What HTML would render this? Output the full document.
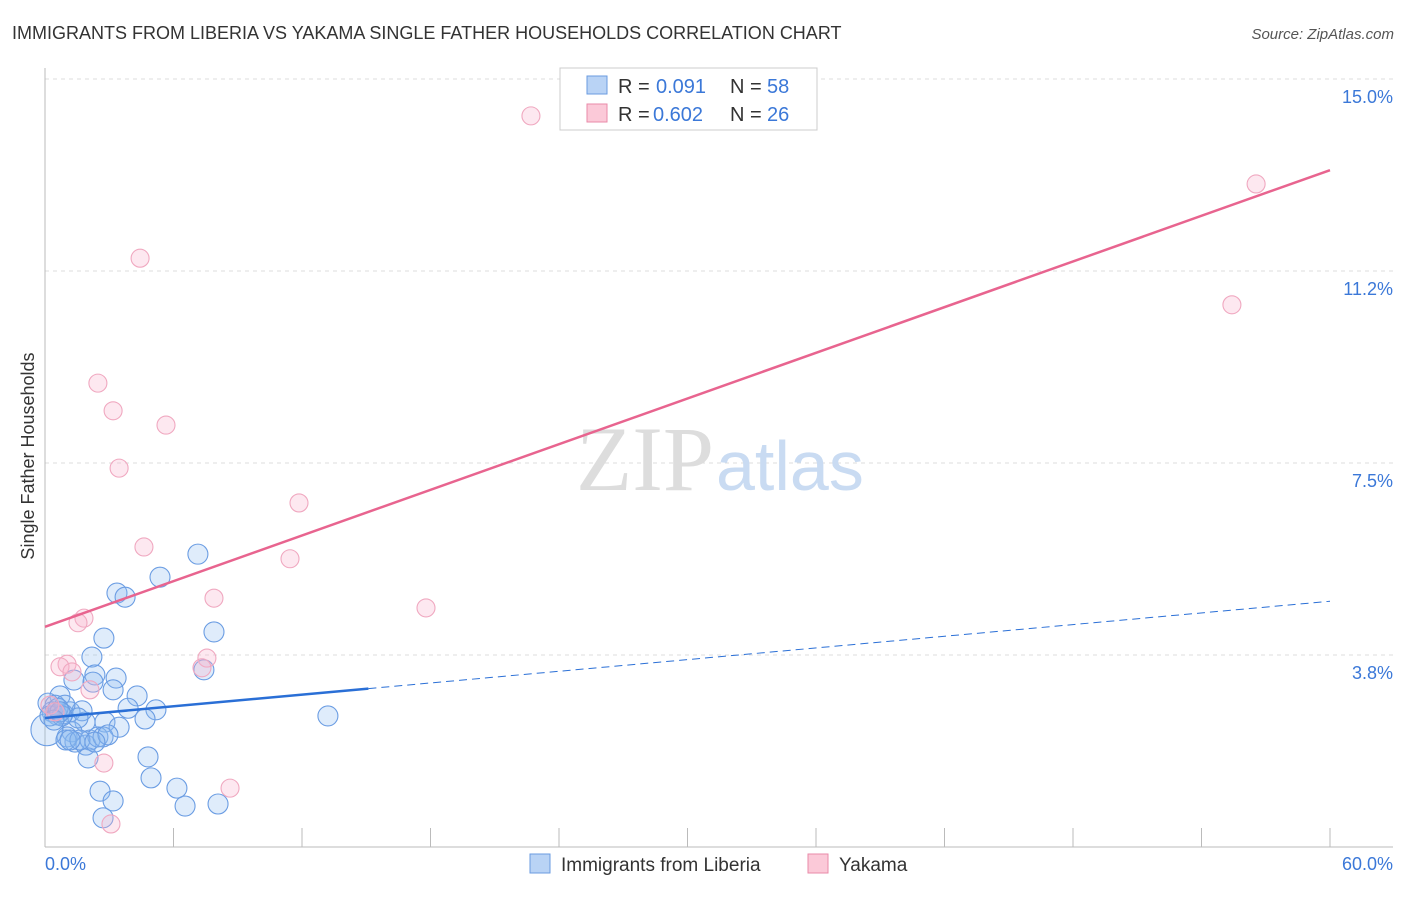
<!DOCTYPE html>
<html><head><meta charset="utf-8"><style>
body{margin:0;background:#fff;font-family:"Liberation Sans",sans-serif}
</style></head><body>
<svg width="1406" height="892" xmlns="http://www.w3.org/2000/svg" font-family="Liberation Sans, sans-serif">
<text x="12" y="39" font-size="18" fill="#333">IMMIGRANTS FROM LIBERIA VS YAKAMA SINGLE FATHER HOUSEHOLDS CORRELATION CHART</text>
<text x="1394" y="39" font-size="15" fill="#555" font-style="italic" text-anchor="end">Source: ZipAtlas.com</text>
<g id="grid"></g>
<text x="714" y="490" font-size="92" fill="#ddd" text-anchor="end" font-family="Liberation Serif, serif">ZIP</text>
<text x="716" y="490" font-size="70" fill="#c9dbf2">atlas</text>
<line x1="45" y1="68" x2="45" y2="847" stroke="#bbb"/>
<line x1="45" y1="847" x2="1393" y2="847" stroke="#bbb"/>
<text x="34" y="456" font-size="18" fill="#333" text-anchor="middle" transform="rotate(-90 34 456)">Single Father Households</text>
<text x="45" y="870" font-size="18" fill="#3b78d8">0.0%</text>
<text x="1393" y="870" font-size="18" fill="#3b78d8" text-anchor="end">60.0%</text>
<g id="points"></g>
<g id="lines"></g>
<g>
<rect x="560" y="68" width="257" height="62" fill="#fff" stroke="#ccc"/>
<rect x="587" y="76" width="20" height="18" fill="#b9d3f5" stroke="#6a9be0"/>
<rect x="587" y="104" width="20" height="18" fill="#fbc9d8" stroke="#e98aa8"/>
<text x="618" y="93" font-size="20" fill="#333">R =</text><text x="656" y="93" font-size="20" fill="#3b78d8">0.091</text>
<text x="730" y="93" font-size="20" fill="#333">N =</text><text x="767" y="93" font-size="20" fill="#3b78d8">58</text>
<text x="618" y="121" font-size="20" fill="#333">R =</text><text x="653" y="121" font-size="20" fill="#3b78d8">0.602</text>
<text x="730" y="121" font-size="20" fill="#333">N =</text><text x="767" y="121" font-size="20" fill="#3b78d8">26</text>
</g>
<g>
<rect x="530" y="854" width="20" height="19" fill="#b9d3f5" stroke="#6a9be0"/>
<text x="561" y="871" font-size="19" fill="#333">Immigrants from Liberia</text>
<rect x="808" y="854" width="20" height="19" fill="#fbc9d8" stroke="#e98aa8"/>
<text x="839" y="871" font-size="19" fill="#333">Yakama</text>
</g>
</svg>
<script>
const yTicks=[3.75,7.5,11.25,15];
const yTickLabels=["3.8%","7.5%","11.2%","15.0%"];
const xTicks=[0,6,12,18,24,30,36,42,48,54,60];
const blueX=[7.14,5.37,3.36,3.74,2.75,7.89,2.19,2.33,3.32,2.24,3.18,4.30,1.35,0.70,0.14,3.88,5.18,4.67,2.80,3.46,1.17,1.87,1.73,1.26,1.03,1.40,1.91,2.10,2.47,2.71,2.94,2.01,4.81,4.95,2.57,3.18,2.71,6.16,6.54,8.08,13.21,7.42,0.33,0.56,0.84,0.09,0.47,0.93,0.23,1.54,0.98,1.63,2.33,0.61,0.79,1.17,0.70,0.42];
const blueY=[5.72,5.27,4.96,4.88,4.08,4.20,3.71,3.36,3.30,3.22,3.07,2.95,3.26,2.95,2.81,2.71,2.68,2.50,2.44,2.34,2.64,2.44,2.66,2.25,2.15,2.05,1.99,2.09,2.15,2.15,2.19,1.74,1.76,1.35,1.09,0.90,0.57,1.15,0.80,0.84,2.56,3.46,2.64,2.58,2.60,2.29,2.77,2.77,2.56,2.52,2.09,2.09,2.05,2.71,2.56,2.09,2.64,2.48];
const pinkX=[22.69,56.55,55.42,4.44,2.47,3.18,5.65,3.46,11.86,4.62,11.44,7.89,17.79,1.82,1.54,1.03,0.70,1.26,7.56,7.33,2.10,2.75,8.64,3.08,0.23,0.47];
const pinkY=[14.28,12.95,10.59,11.50,9.06,8.52,8.24,7.40,6.72,5.86,5.63,4.86,4.67,4.47,4.38,3.57,3.52,3.42,3.69,3.50,3.07,1.64,1.15,0.45,2.77,2.64];
const blueTrend=[2.52,4.80];
const pinkTrend=[4.30,13.22];
const NS="http://www.w3.org/2000/svg";
const sx=v=>45+v*(1285/60), sy=v=>847-v*51.2;
function mk(t,a,p){const e=document.createElementNS(NS,t);for(const k in a)e.setAttribute(k,a[k]);p.appendChild(e);return e;}
const grid=document.getElementById('grid');
yTicks.forEach((t,i)=>{
 const l=mk('line',{x1:45,x2:1393,y1:sy(t),y2:sy(t),stroke:'#ddd','stroke-dasharray':'4,4'},grid);
 
 
 const tx=mk('text',{x:1393,y:sy(t)+24,'font-size':18,fill:'#3b78d8','text-anchor':'end'},grid);
 tx.textContent=yTickLabels[i];
 
 
});
xTicks.forEach(t=>{
 const l=mk('line',{x1:sx(t),x2:sx(t),y1:828,y2:847,stroke:'#bbb'},grid);
 
 
});
const pts=document.getElementById('points');
blueX.forEach((x,i)=>{
 const c=mk('circle',{cx:sx(x),cy:sy(blueY[i]),r:i==45?16:10,fill:'rgba(140,185,240,0.28)',stroke:'#6b9de3','stroke-width':1.1},pts);
 
 
});
pinkX.forEach((x,i)=>{
 const c=mk('circle',{cx:sx(x),cy:sy(pinkY[i]),r:9,fill:'rgba(248,180,205,0.3)',stroke:'#f0a8c0','stroke-width':1.1},pts);
 
 
});
const ln=document.getElementById('lines');
const bAt=x=>blueTrend[0]+(blueTrend[1]-blueTrend[0])*x/60;
let l=mk('line',{x1:sx(0),y1:sy(bAt(0)),x2:sx(15.1),y2:sy(bAt(15.1)),stroke:'#2a6fd6','stroke-width':2.5},ln);


l=mk('line',{x1:sx(15.1),y1:sy(bAt(15.1)),x2:sx(60),y2:sy(bAt(60)),stroke:'#2a6fd6','stroke-width':1,'stroke-dasharray':'8,5'},ln);


l=mk('line',{x1:sx(0),y1:sy(pinkTrend[0]),x2:sx(60),y2:sy(pinkTrend[1]),stroke:'#e8648f','stroke-width':2.5},ln);


</script>
</body></html>
